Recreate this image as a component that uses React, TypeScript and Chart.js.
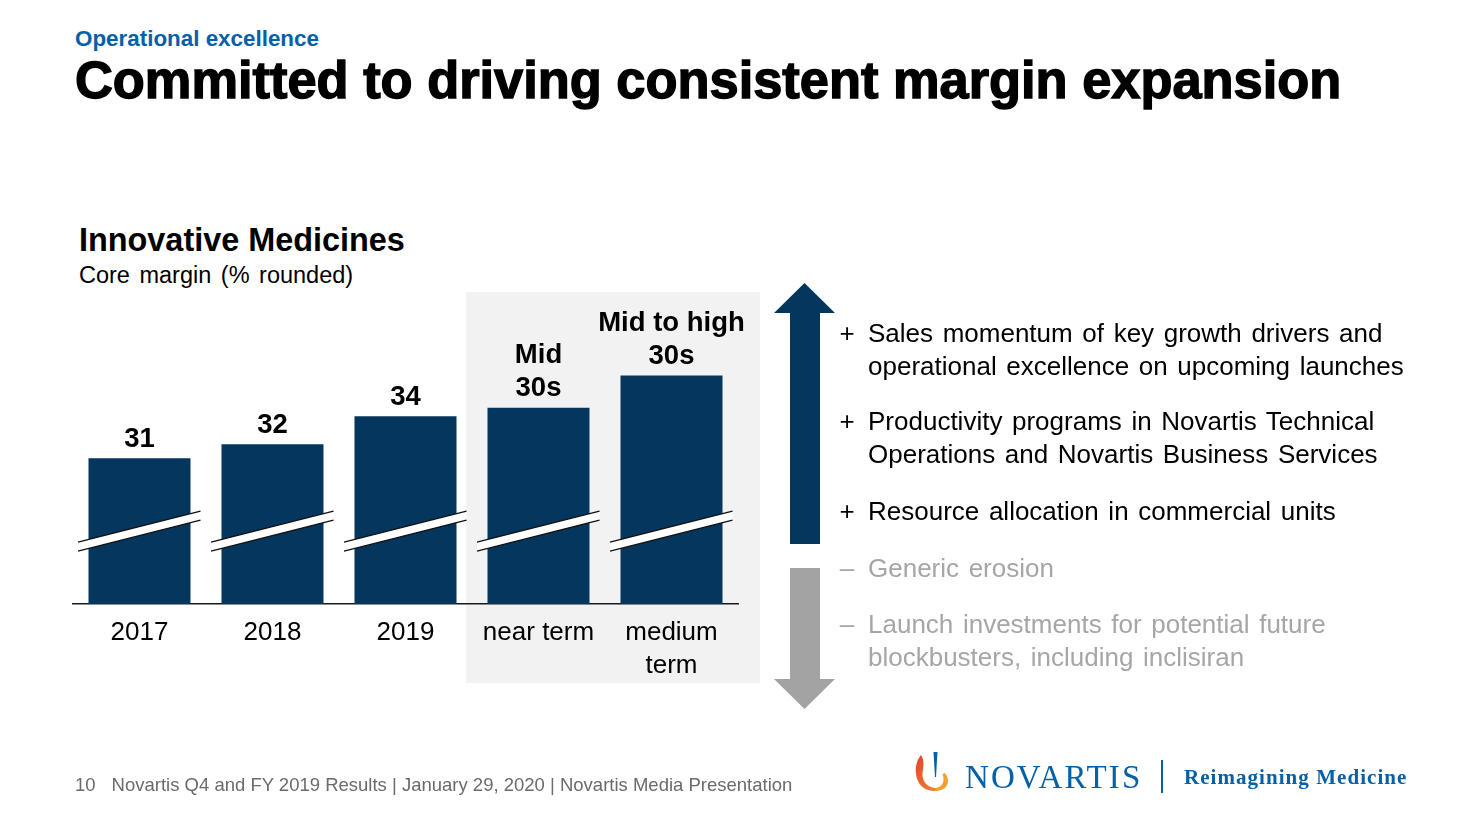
import React, { useEffect, useRef } from "react";
import { Chart, registerables } from "chart.js";

Chart.register(...registerables);

// ---------- data ----------
const CATEGORIES: (string | string[])[] = ["2017", "2018", "2019", "near term", ["medium", "term"]];
const VALUES: number[] = [31, 32, 34, 34.6, 36.9];
const VALUE_LABELS: string[][] = [["31"], ["32"], ["34"], ["Mid", "30s"], ["Mid to high", "30s"]];
const AXIS_MIN = 20.6;
const AXIS_MAX = 42.0;
const BREAK_VALUE = 25.8;

const UP_BULLETS: string[][] = [
  ["Sales momentum of key growth drivers and", "operational excellence on upcoming launches"],
  ["Productivity programs in Novartis Technical", "Operations and Novartis Business Services"],
  ["Resource allocation in commercial units"],
];
const DOWN_BULLETS: string[][] = [
  ["Generic erosion"],
  ["Launch investments for potential future", "blockbusters, including inclisiran"],
];

const NAVY = "#04365E";
const GREY_ARROW = "#A3A3A3";
const FONT = "'Liberation Sans', Arial, Helvetica, sans-serif";

const breakPlugin = {
  id: "breakMarks",
  afterDatasetsDraw(chart: any) {
    const { ctx } = chart;
    const meta = chart.getDatasetMeta(0);
    const yScale = chart.scales.y;
    const yc = yScale.getPixelForValue(BREAK_VALUE);
    const s = 31 / 122;
    const h = 4.5;
    ctx.save();
    meta.data.forEach((el: any) => {
      const x0 = el.x - el.width / 2 - 10.5;
      const x1 = el.x + el.width / 2 + 10;
      const yl = yc + s * (el.x - x0);
      const yr = yc - s * (x1 - el.x);
      ctx.beginPath();
      ctx.moveTo(x0, yl - h);
      ctx.lineTo(x1, yr - h);
      ctx.lineTo(x1, yr + h);
      ctx.lineTo(x0, yl + h);
      ctx.closePath();
      ctx.fillStyle = "#ffffff";
      ctx.fill();
      ctx.strokeStyle = "#111111";
      ctx.lineWidth = 1.3;
      ctx.beginPath();
      ctx.moveTo(x0, yl - h);
      ctx.lineTo(x1, yr - h);
      ctx.moveTo(x0, yl + h);
      ctx.lineTo(x1, yr + h);
      ctx.stroke();
    });
    ctx.restore();
  },
};

const valueLabelPlugin = {
  id: "valueLabels",
  afterDatasetsDraw(chart: any) {
    const { ctx } = chart;
    const meta = chart.getDatasetMeta(0);
    ctx.save();
    ctx.font = `bold 27.5px ${FONT}`;
    ctx.fillStyle = "#000";
    ctx.textAlign = "center";
    ctx.textBaseline = "middle";
    meta.data.forEach((el: any, i: number) => {
      const lines = VALUE_LABELS[i];
      const n = lines.length;
      lines.forEach((line, j) => {
        ctx.fillText(line, el.x, el.y - 19 - (n - 1 - j) * 33);
      });
    });
    ctx.restore();
  },
};

function BarChart() {
  const ref = useRef<HTMLCanvasElement>(null);
  useEffect(() => {
    if (!ref.current) return;
    const chart = new Chart(ref.current, {
      type: "bar",
      data: {
        labels: CATEGORIES as any,
        datasets: [
          {
            data: VALUES,
            backgroundColor: NAVY,
            borderWidth: 0,
            barPercentage: 0.767,
            categoryPercentage: 1,
          },
        ],
      },
      options: {
        responsive: false,
        animation: false,
        layout: { padding: { left: 13, right: 22, top: 14, bottom: 0 } },
        plugins: { legend: { display: false }, tooltip: { enabled: false }, title: { display: false } },
        scales: {
          x: {
            grid: { display: true, drawOnChartArea: false, drawTicks: false },
            border: { display: true, color: "#1a1a1a", width: 1.5 },
            ticks: {
              color: "#000",
              padding: 13,
              font: { family: FONT, size: 26, lineHeight: 1.24 },
              maxRotation: 0,
              autoSkip: false,
            },
            afterFit: (scale: any) => {
              scale.height = 96;
            },
          },
          y: { display: false, min: AXIS_MIN, max: AXIS_MAX },
        },
      },
      plugins: [breakPlugin, valueLabelPlugin],
    });
    return () => chart.destroy();
  }, []);
  return (
    <canvas
      ref={ref}
      width={700}
      height={410}
      style={{ position: "absolute", left: 60, top: 290, width: 700, height: 410 }}
    />
  );
}

function Bullet({ sign, lines, top, color }: { sign: string; lines: string[]; top: number; color: string }) {
  return (
    <div style={{ position: "absolute", left: 838, top, color, fontFamily: FONT, fontSize: 26, lineHeight: "32.5px" }}>
      <span style={{ position: "absolute", left: 0, top: 0, width: 18, textAlign: "center" }}>{sign}</span>
      <div style={{ position: "absolute", left: 30, top: 0, whiteSpace: "nowrap", wordSpacing: 2.4 }}>
        {lines.map((l, i) => (
          <div key={i}>{l}</div>
        ))}
      </div>
    </div>
  );
}

export default function App() {
  const upTops = [317, 405, 495];
  const downTops = [552, 608];
  return (
    <div style={{ position: "absolute", left: 0, top: 0, width: 1479, height: 832, background: "#fff", overflow: "hidden", fontFamily: FONT }}>
      <div style={{ position: "absolute", left: 75, top: 27, fontSize: 22.4, fontWeight: "bold", color: "#0460A9", lineHeight: "24px", whiteSpace: "nowrap" }}>
        Operational excellence
      </div>
      <div style={{ position: "absolute", left: 75, top: 52, fontSize: 52.4, fontWeight: "bold", color: "#000", lineHeight: "56px", whiteSpace: "nowrap", WebkitTextStroke: "1.4px #000" } as any}>
        Committed to driving consistent margin expansion
      </div>
      <div style={{ position: "absolute", left: 79, top: 222, fontSize: 32.4, fontWeight: "bold", color: "#000", lineHeight: "36px", whiteSpace: "nowrap" }}>
        Innovative Medicines
      </div>
      <div style={{ position: "absolute", left: 79, top: 262, fontSize: 23.5, color: "#000", lineHeight: "26px", whiteSpace: "nowrap", wordSpacing: 3 }}>
        Core margin (% rounded)
      </div>

      <div style={{ position: "absolute", left: 466, top: 292, width: 294, height: 391, background: "#F2F2F2" }} />
      <BarChart />

      <svg style={{ position: "absolute", left: 0, top: 0 }} width={1479} height={832}>
        <polygon points="804.5,283 835,313 820,313 820,544 790,544 790,313 774,313" fill={NAVY} />
        <polygon points="790,568 820,568 820,679 835,679 804.5,709 774,679 790,679" fill={GREY_ARROW} />
      </svg>

      {UP_BULLETS.map((b, i) => (
        <Bullet key={"u" + i} sign="+" lines={b} top={upTops[i]} color="#000" />
      ))}
      {DOWN_BULLETS.map((b, i) => (
        <Bullet key={"d" + i} sign="–" lines={b} top={downTops[i]} color="#A6A6A6" />
      ))}

      <div style={{ position: "absolute", left: 75, top: 775, fontSize: 18.5, color: "#6B6B6B", lineHeight: "20px", whiteSpace: "nowrap" }}>
        <span>10</span>
        <span style={{ marginLeft: 16 }}>Novartis Q4 and FY 2019 Results | January 29, 2020 | Novartis Media Presentation</span>
      </div>

      <svg style={{ position: "absolute", left: 912, top: 750 }} width={42} height={44} viewBox="0 0 42 44">
        <defs>
          <linearGradient id="flame" x1="0" y1="0" x2="0.6" y2="1">
            <stop offset="0" stopColor="#E3412B" />
            <stop offset="1" stopColor="#EE7A2A" />
          </linearGradient>
        </defs>
        <polygon points="21.5,2 25.5,2 24,27 23,27" fill="#0460A9" />
        <path d="M9,5 C2,14 3,24 6,31 C9,38 16,41 23,41 L23,38 C15,37 10,31 10.5,24 C11,17 13,11 9,5 Z" fill="url(#flame)" />
        <path d="M33,23 C39,31 36,41 23,41 L23,38 C31,37 33,31 30.5,24 Z" fill="#F2A033" />
      </svg>
      <div style={{ position: "absolute", left: 965, top: 758, fontSize: 33, color: "#0460A9", fontFamily: "'Liberation Serif', 'Times New Roman', serif", lineHeight: "38px", letterSpacing: 2.1, whiteSpace: "nowrap" }}>
        NOVARTIS
      </div>
      <div style={{ position: "absolute", left: 1161, top: 760, width: 2, height: 33, background: "#0460A9" }} />
      <div style={{ position: "absolute", left: 1184, top: 764, fontSize: 21, fontWeight: "bold", color: "#0460A9", fontFamily: "'Liberation Serif', 'Times New Roman', serif", lineHeight: "26px", letterSpacing: 1.05, whiteSpace: "nowrap" }}>
        Reimagining Medicine
      </div>
    </div>
  );
}
